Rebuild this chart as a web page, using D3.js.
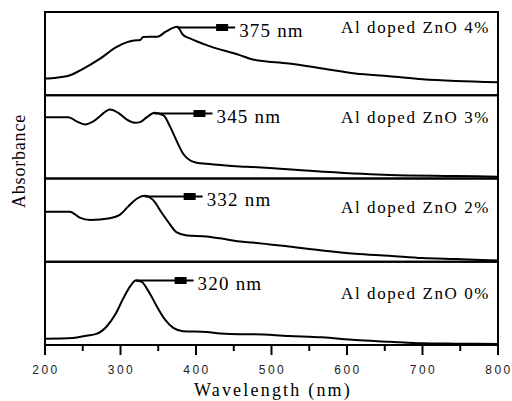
<!DOCTYPE html>
<html>
<head>
<meta charset="utf-8">
<script src="https://cdn.jsdelivr.net/npm/d3@7"></script>
<style>
  body { margin: 0; background: #fff; }
  svg { display: block; }
  .serif { font-family: "Liberation Serif", "Times New Roman", Times, serif; }
  .sans { font-family: "Liberation Sans", Arial, Helvetica, sans-serif; }
</style>
</head>
<body>
<div id="chart"></div>
<script>
// spectra, one array pair per panel (top to bottom)
const nm4  = [200, 215, 233, 251, 273, 295, 308, 318, 326, 330, 349, 360, 375, 383, 392, 414, 458, 475, 523, 567, 611, 656, 700, 744, 800];
const abs4 = [0.20, 0.21, 0.24, 0.32, 0.44, 0.58, 0.635, 0.657, 0.663, 0.70, 0.703, 0.763, 0.823, 0.723, 0.683, 0.602, 0.482, 0.43, 0.382, 0.322, 0.261, 0.229, 0.193, 0.172, 0.157];

const nm3  = [200, 231, 242, 253, 264, 275, 286, 297, 308, 319, 326, 335, 345, 357, 366, 374, 383, 392, 401, 414, 436, 458, 475, 568, 656, 744, 800];
const abs3 = [0.737, 0.737, 0.686, 0.65, 0.686, 0.766, 0.829, 0.789, 0.71, 0.669, 0.677, 0.737, 0.789, 0.757, 0.617, 0.458, 0.298, 0.219, 0.19, 0.178, 0.159, 0.145, 0.138, 0.081, 0.042, 0.03, 0.022];

const nm2  = [200, 233, 246, 260, 286, 299, 310, 321, 332, 343, 355, 366, 374, 388, 414, 436, 458, 475, 523, 567, 611, 656, 700, 744, 800];
const abs2 = [0.602, 0.602, 0.53, 0.503, 0.523, 0.563, 0.662, 0.754, 0.793, 0.743, 0.583, 0.443, 0.355, 0.315, 0.303, 0.275, 0.243, 0.231, 0.183, 0.135, 0.096, 0.072, 0.044, 0.032, 0.016];

const nm0  = [200, 237, 255, 268, 282, 293, 304, 313, 320, 328, 337, 348, 359, 370, 383, 414, 432, 458, 475, 523, 567, 611, 656, 700, 744, 800];
const abs0 = [0.076, 0.084, 0.112, 0.133, 0.225, 0.365, 0.566, 0.707, 0.775, 0.759, 0.647, 0.466, 0.305, 0.205, 0.165, 0.157, 0.138, 0.13, 0.13, 0.108, 0.092, 0.06, 0.04, 0.02, 0.016, 0.012];

const sampleNames = ["Al doped ZnO 4%", "Al doped ZnO 3%", "Al doped ZnO 2%", "Al doped ZnO 0%"];
const peaks = [375, 345, 332, 320];
const xTicks = [200, 300, 400, 500, 600, 700, 800];
const xMinorTicks = [250, 350, 450, 550, 650, 750];

const W = 512, H = 401;
const plotLeft = 45, plotRight = 498, plotTop = 12, plotBottom = 345;
const panelH = (plotBottom - plotTop) / 4;
const labelDy = [21, 28, 34, 37]; // baseline of the sample name below each panel top

const svg = d3.select("#chart").append("svg")
  .attr("width", W)
  .attr("height", H);

const x = d3.scaleLinear().domain([200, 800]).range([plotLeft, plotRight]);

const series = [
  { nm: nm4, abs: abs4 },
  { nm: nm3, abs: abs3 },
  { nm: nm2, abs: abs2 },
  { nm: nm0, abs: abs0 }
];

series.forEach(function (s, i) {
  const y0 = plotTop + i * panelH;
  const y = d3.scaleLinear().domain([0, 1]).range([y0 + panelH, y0]);
  const pts = s.nm.map(function (d, j) { return [d, s.abs[j]]; });

  const line = d3.line()
    .x(function (d) { return x(d[0]); })
    .y(function (d) { return y(d[1]); })
    .curve(d3.curveMonotoneX);

  svg.append("path")
    .datum(pts)
    .attr("fill", "none")
    .attr("stroke", "#000")
    .attr("stroke-width", 2)
    .attr("d", line);

  // peak marker line
  const pk = peaks[i];
  const px = x(pk);
  const py = Math.round(y(s.abs[s.nm.indexOf(pk)])) + 0.5;
  svg.append("line")
    .attr("x1", px).attr("x2", px + 58)
    .attr("y1", py).attr("y2", py)
    .attr("stroke", "#000")
    .attr("stroke-width", 2);
  svg.append("rect")
    .attr("x", px + 39).attr("y", py - 3.5)
    .attr("width", 12).attr("height", 7)
    .attr("fill", "#000");
  svg.append("text")
    .attr("class", "serif")
    .attr("x", px + 62)
    .attr("y", py + 9)
    .attr("font-size", 19)
    .attr("letter-spacing", 1.2)
    .text(pk + " nm");

  svg.append("text")
    .attr("class", "serif")
    .attr("x", 341)
    .attr("y", y0 + labelDy[i])
    .attr("font-size", 17)
    .attr("letter-spacing", 1.6)
    .text(sampleNames[i]);

  // panel frame
  svg.append("rect")
    .attr("x", plotLeft).attr("y", y0)
    .attr("width", plotRight - plotLeft).attr("height", panelH)
    .attr("fill", "none")
    .attr("stroke", "#000")
    .attr("stroke-width", 2);
});

// x axis
const xAxis = svg.append("g")
  .attr("transform", "translate(0," + plotBottom + ")");

xAxis.selectAll("line.major")
  .data(xTicks)
  .enter().append("line")
  .attr("class", "major")
  .attr("x1", x).attr("x2", x)
  .attr("y1", 0).attr("y2", 10)
  .attr("stroke", "#000")
  .attr("stroke-width", 2);

xAxis.selectAll("line.minor")
  .data(xMinorTicks)
  .enter().append("line")
  .attr("class", "minor")
  .attr("x1", x).attr("x2", x)
  .attr("y1", 0).attr("y2", 6)
  .attr("stroke", "#000")
  .attr("stroke-width", 2);

xAxis.selectAll("text")
  .data(xTicks)
  .enter().append("text")
  .attr("class", "sans")
  .attr("x", function (d) { return x(d) + 1; })
  .attr("y", 29)
  .attr("text-anchor", "middle")
  .attr("font-size", 12)
  .attr("letter-spacing", 2.5)
  .attr("fill", "#222")
  .text(function (d) { return d; });

svg.append("text")
  .attr("class", "serif")
  .attr("x", 273)
  .attr("y", 396)
  .attr("text-anchor", "middle")
  .attr("font-size", 18)
  .attr("letter-spacing", 2.2)
  .text("Wavelength (nm)");

svg.append("text")
  .attr("class", "serif")
  .attr("transform", "translate(25,161) rotate(-90)")
  .attr("text-anchor", "middle")
  .attr("font-size", 18)
  .attr("letter-spacing", 0.8)
  .text("Absorbance");
</script>
</body>
</html>
